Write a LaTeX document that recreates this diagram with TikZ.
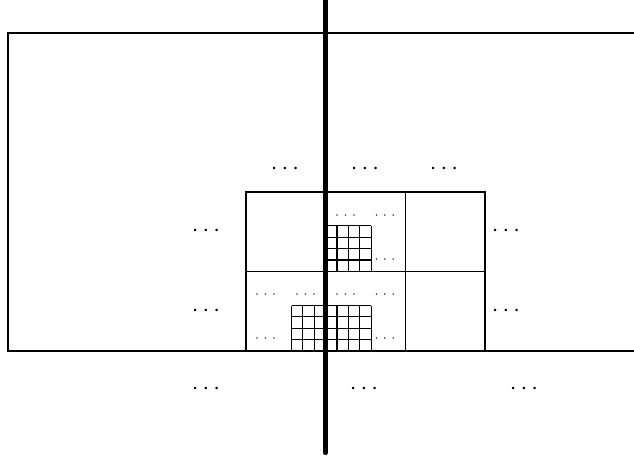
\documentclass[tikz,border=0pt]{standalone}
\begin{document}
\begin{tikzpicture}[x=0.416pt,y=-0.416pt,
  frame/.style={line width=0.85pt},
  axisline/.style={line width=1.7pt, line cap=round},
  cellbox/.style={line width=0.45pt},
  gridline/.style={line width=0.45pt},
  bigdots/.style={inner sep=0pt},
  smalldots/.style={inner sep=0pt,font=\tiny}]
\useasboundingbox (0,0) rectangle (634,459);
\clip (0,0) rectangle (634,459);
% boxes
\foreach \i in {0,1,2}
  \foreach \j in {0,1}
    \draw[cellbox] ({246+\i*79.67},{192+\j*79.5}) rectangle +(79.67,79.5);
% lower fine grid (7 x 4)
\foreach \k in {0,...,7}
  \draw[gridline] ({291.5+\k*11.37},305.5) -- ({291.5+\k*11.37},351);
\foreach \k in {0,...,4}
  \draw[gridline] (291.5,{351-\k*11.37}) -- (371.1,{351-\k*11.37});
% upper fine grid (4 x 4)
\foreach \k in {0,...,4}
  \draw[gridline] ({325.6+\k*11.37},225.9) -- ({325.6+\k*11.37},271.4);
\foreach \k in {0,...,4}
  \draw[gridline] (325.6,{271.4-\k*11.37}) -- (371.1,{271.4-\k*11.37});
% big frame
\coordinate (fTR) at (650,33);
\coordinate (fTL) at (8,33);
\coordinate (fBL) at (8,351);
\coordinate (fBR) at (650,351);
\draw[frame] (fTR) -- (fTL) -- (fBL) -- (fBR);
% thick axis
\coordinate (aT) at (325.5,-10);
\coordinate (aB) at (325.5,453);
\draw[axisline] (aT) -- (aB);
% large dots
\node[bigdots] (d1) at (285,169) {$\cdots$};
\node[bigdots] (d2) at (365,169) {$\cdots$};
\node[bigdots] (d3) at (444,169) {$\cdots$};
\node[bigdots] (d4) at (206,231) {$\cdots$};
\node[bigdots] (d5) at (506,231) {$\cdots$};
\node[bigdots] (d6) at (206,311) {$\cdots$};
\node[bigdots] (d7) at (506,311) {$\cdots$};
\node[bigdots] (d8) at (206,389) {$\cdots$};
\node[bigdots] (d9) at (364,389) {$\cdots$};
\node[bigdots] (d10) at (524,389) {$\cdots$};
% small dots
\node[smalldots] (s1) at (345.7,216) {$\cdots$};
\node[smalldots] (s2) at (385,216) {$\cdots$};
\node[smalldots] (s3) at (385,260) {$\cdots$};
\node[smalldots] (s4) at (265.7,294.7) {$\cdots$};
\node[smalldots] (s5) at (305.7,294.7) {$\cdots$};
\node[smalldots] (s6) at (345.7,294.7) {$\cdots$};
\node[smalldots] (s7) at (385,294.7) {$\cdots$};
\node[smalldots] (s8) at (265.7,339) {$\cdots$};
\node[smalldots] (s9) at (385,339) {$\cdots$};
\end{tikzpicture}
\end{document}
